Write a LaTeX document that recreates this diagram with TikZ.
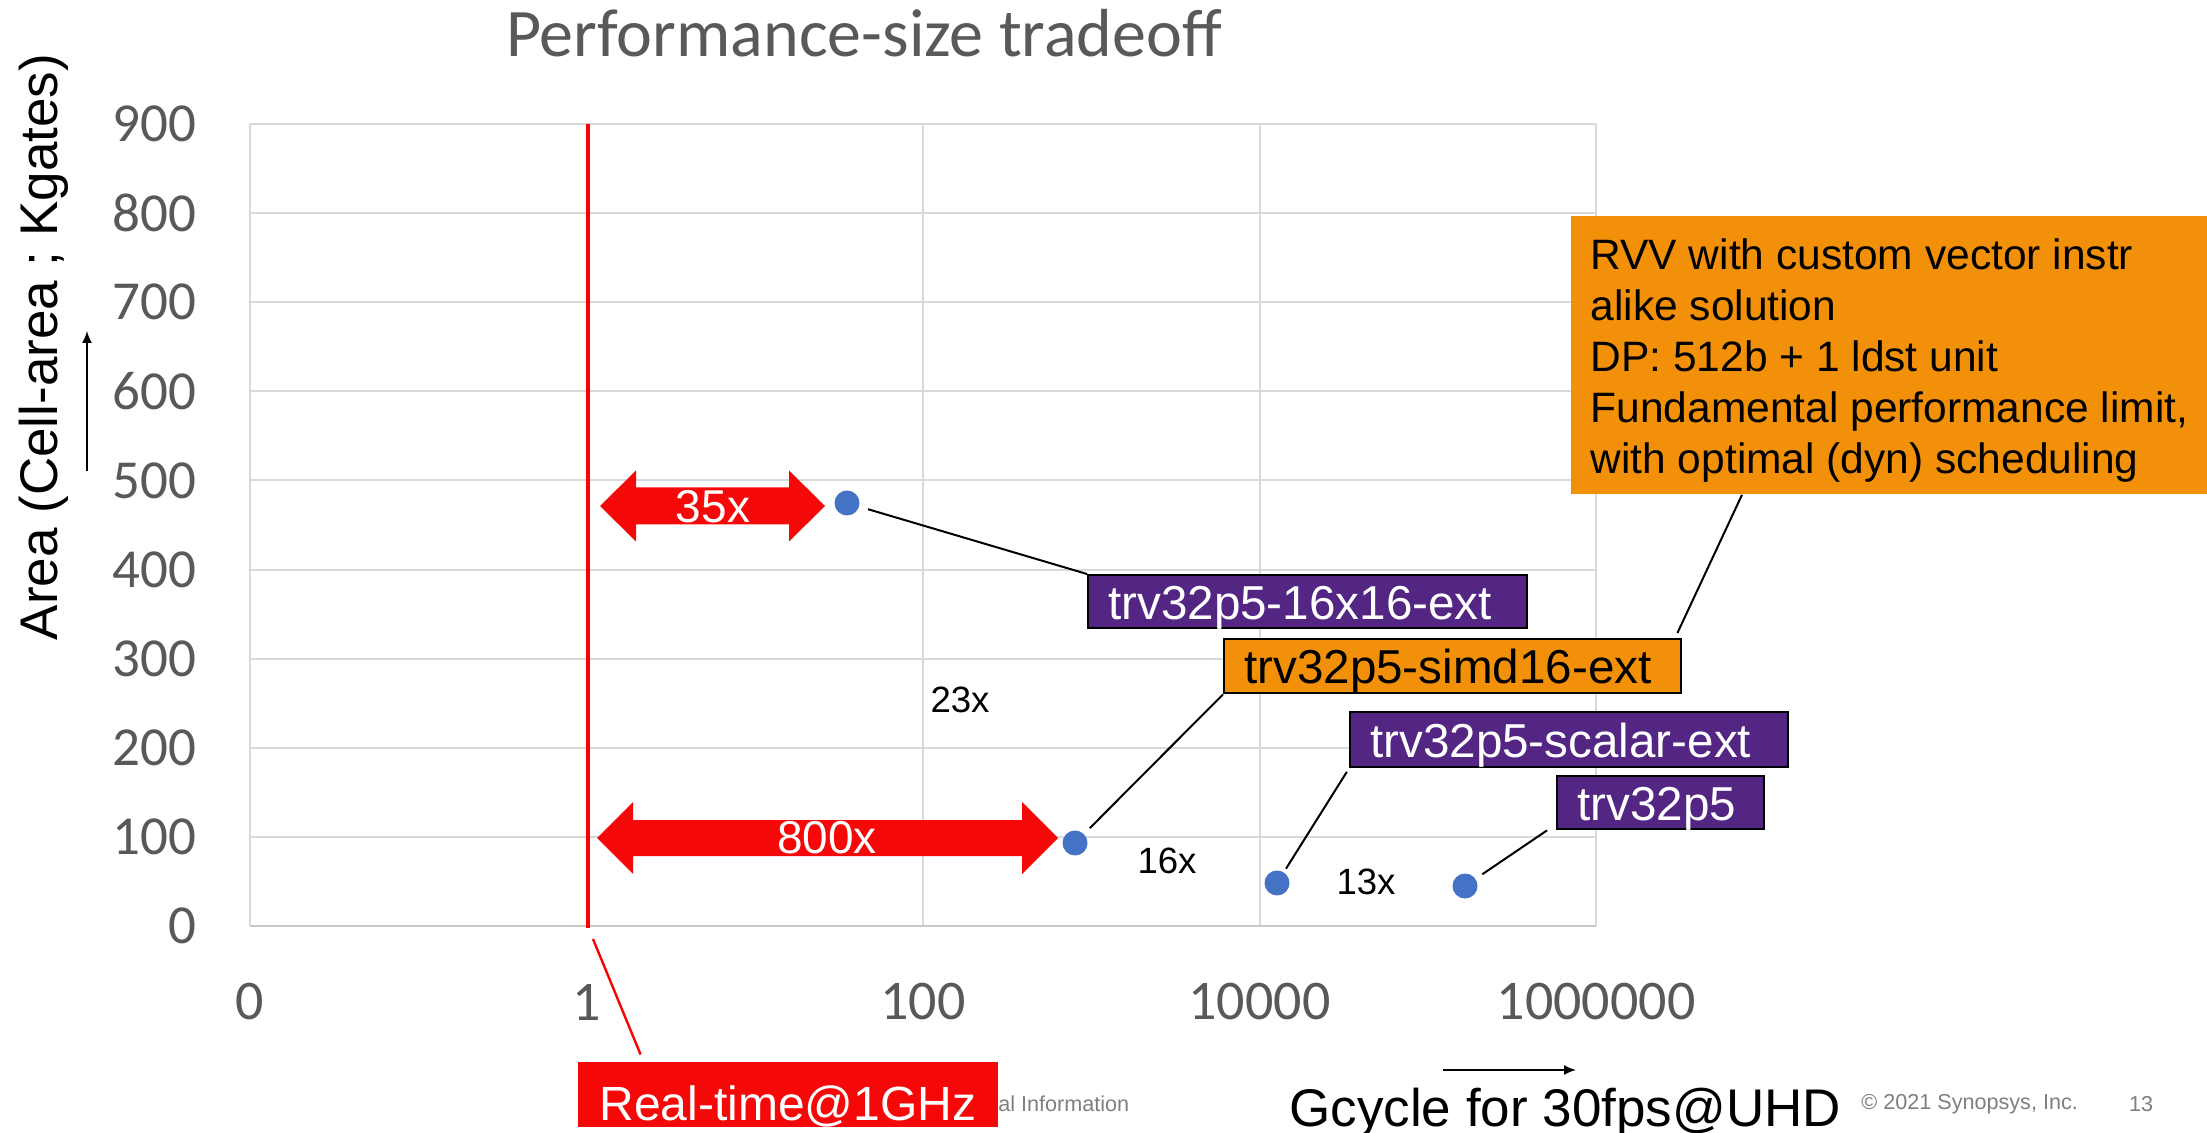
\documentclass[tikz,border=0pt]{standalone}
\usepackage{fontspec}
\setmainfont{Liberation Sans}
\newfontfamily\calibfont{Carlito}
\usetikzlibrary{calc,arrows.meta}
\definecolor{gridc}{HTML}{D9D9D9}
\definecolor{axisc}{HTML}{C8C8C8}
\definecolor{tickc}{HTML}{595959}
\definecolor{dotc}{HTML}{4472C4}
\definecolor{purp}{HTML}{522682}
\definecolor{orng}{HTML}{F39009}
\definecolor{rred}{HTML}{F40808}
\definecolor{vred}{HTML}{FF0000}
\definecolor{footc}{HTML}{7F7F7F}
\begin{document}
\begin{tikzpicture}[x=0.5pt,y=-0.5pt,
  gridline/.style={draw=gridc, line width=1pt},
  ytick/.style={anchor=east, text=tickc, font=\calibfont\fontsize{27.5}{33}\selectfont, inner sep=0pt},
  xtick/.style={anchor=center, text=tickc, font=\calibfont\fontsize{28}{33}\selectfont, inner sep=0pt},
  dot/.style={circle, fill=dotc, inner sep=0pt, minimum size=12.5pt},
  lbl/.style={draw=black, line width=1.2pt, fill=purp, text=white, anchor=north west,
    font=\fontsize{23.8}{28}\selectfont, inner xsep=10pt, inner ysep=0pt, align=left,
    text height=17.5pt, text depth=0pt},
  lead/.style={draw=black, line width=1pt},
  ratio/.style={font=\fontsize{18.3}{22}\selectfont, inner sep=0pt},
  arrtext/.style={text=white, font=\fontsize{23}{28}\selectfont, inner sep=0pt},
  foot/.style={text=footc, font=\fontsize{10.8}{13}\selectfont, inner sep=0pt},
  axarrow/.style={-{Latex[length=6pt,width=5pt]}, line width=0.9pt, black}
]
\useasboundingbox[fill=white] (0,0) rectangle (2207,1133);

% title
\node[text=tickc, font=\calibfont\fontsize{34}{40}\selectfont, inner sep=0pt] (title) at (864,33) {Performance-size tradeoff};

% grid
\foreach \i in {1,...,9} {
  \draw[gridline] (250,926-\i*89.11) -- (1596,926-\i*89.11);
}
\foreach \j in {0,...,4} {
  \draw[gridline] (250+\j*336.5,124) -- (250+\j*336.5,926);
}
\draw[draw=axisc, line width=1pt] (250,926) -- (1596,926);

% tick labels
\foreach \i in {0,...,9} {
  \pgfmathtruncatemacro\v{\i*100}
  \node[ytick] (yt\i) at (197,926-\i*89.11) {\v};
}
\node[xtick] (xt0) at (250,1002) {0};
\node[xtick] (xt1) at (586.5,1002) {1};
\node[xtick] (xt2) at (923,1002) {100};
\node[xtick] (xt3) at (1259.5,1002) {10000};
\node[xtick] (xt4) at (1596,1002) {1000000};

% axis titles
\node[rotate=90, font=\fontsize{26.5}{32}\selectfont, inner sep=0pt] (ylab) at (44,347) {Area (Cell-area ; Kgates)};
\coordinate (ya0) at (87,471);
\coordinate (ya1) at (87,331);
\draw[axarrow] (ya0) -- (ya1);
\coordinate (xa0) at (1443,1070);
\coordinate (xa1) at (1576,1070);
\draw[axarrow] (xa0) -- (xa1);
\node[anchor=base west, font=\fontsize{26.5}{32}\selectfont, inner sep=0pt] (xlab) at (1289,1126) {Gcycle for 30fps@UHD};

% footer
\node[foot, anchor=west] (conf) at (998,1104) {al Information};
\node[foot, anchor=west] (copy) at (1861,1104) {\textcopyright{} 2021 Synopsys, Inc.};
\node[foot] (pg) at (2141,1104) {13};

% real-time line
\coordinate (vtop) at (588,124);
\coordinate (vbot) at (588,928);
\draw[vred, line width=2.4pt] (vtop) -- (vbot);
\node[fill=rred, text=white, minimum width=210pt, minimum height=32.5pt, inner sep=0pt,
  font=\fontsize{24}{29}\selectfont, text height=25.5pt, text depth=0pt] (rt) at (788,1094.5) {Real-time@1GHz};
\coordinate (rls) at (593,939);
\draw[vred, line width=1.2pt] (rls) -- ([xshift=31.5pt,yshift=3.5pt]rt.north west);

% double arrows
\fill[rred] (600,506) -- (636,470.5) -- (636,487.5) -- (789,487.5) -- (789,470.5) -- (825,506)
  -- (789,541.5) -- (789,524.5) -- (636,524.5) -- (636,541.5) -- cycle;
\node[arrtext] (a35) at (713,507) {35x};
\fill[rred] (597,838) -- (633,802) -- (633,820) -- (1022,820) -- (1022,802) -- (1058,838)
  -- (1022,874) -- (1022,856) -- (633,856) -- (633,874) -- cycle;
\node[arrtext] (a800) at (827,838) {800x};

% ratios
\node[ratio] (r23) at (960,700) {23x};
\node[ratio] (r16) at (1167,861) {16x};
\node[ratio] (r13) at (1366,882) {13x};

% data points
\node[dot] (d1) at (847,503) {};
\node[dot] (d2) at (1075,843) {};
\node[dot] (d3) at (1277,883) {};
\node[dot] (d4) at (1465,886) {};

% labels
\node[lbl, text width=199.5pt, minimum height=26.5pt] (b1) at (1087,574) {trv32p5-16x16-ext};
\node[lbl, fill=orng, text=black, text width=208.5pt, minimum height=27pt] (b2) at (1223,638) {trv32p5-simd16-ext};
\node[lbl, text width=199pt, minimum height=27.5pt] (b3) at (1349,711) {trv32p5-scalar-ext};
\node[lbl, text width=83.5pt, minimum height=26.5pt] (b4) at (1556,775) {trv32p5};

\node[fill=orng, anchor=north west, minimum width=318pt, minimum height=139pt, align=left,
  inner sep=0pt, font=\fontsize{21.25}{25.5}\selectfont] (rvv) at (1571,216)
  {\rule{0pt}{21pt}RVV with custom vector instr\\alike solution\\DP: 512b + 1 ldst unit\\Fundamental performance limit,\\with optimal (dyn) scheduling};

% leaders
\draw[lead, shorten <=4.5pt] (d1) -- (b1.north west);
\draw[lead, shorten <=4pt] (d2) -- (b2.south west);
\draw[lead, shorten <=2pt, shorten >=2pt] (d3) -- (b3.south west);
\draw[lead, shorten <=4pt] (d4) -- ([xshift=-4.5pt]b4.south west);
\draw[lead] ([xshift=-2.5pt,yshift=2.5pt]b2.north east) -- ([xshift=85.5pt]rvv.south west);
\end{tikzpicture}
\end{document}
